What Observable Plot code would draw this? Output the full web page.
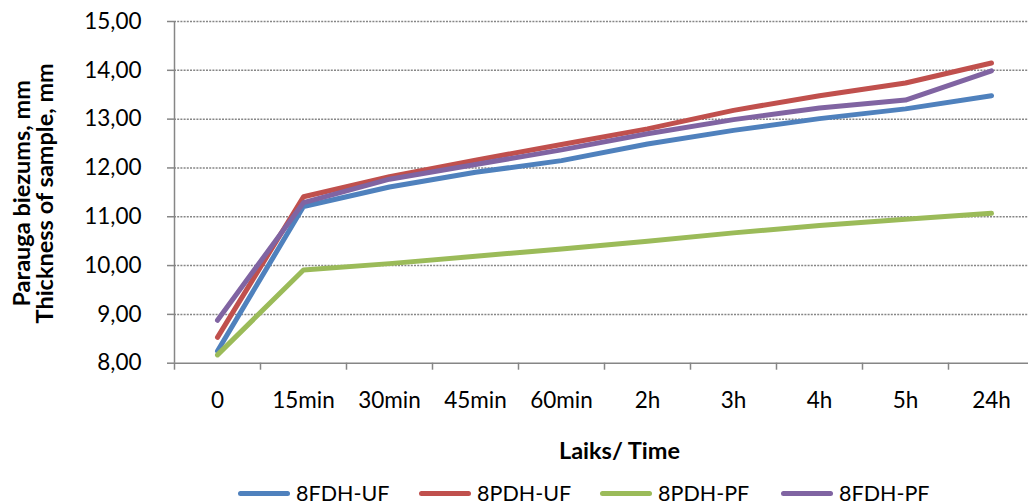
<!DOCTYPE html>
<html>
<head>
<meta charset="utf-8">
<script src="https://cdn.jsdelivr.net/npm/d3@7"></script>
<script src="https://cdn.jsdelivr.net/npm/@observablehq/plot@0.6"></script>
<style>
  html, body { margin: 0; padding: 0; background: #fff; overflow: hidden; }
  body { position: relative; width: 1028px; height: 504px; font-family: Lato, "Open Sans", sans-serif; }
  #legend {
    position: absolute; left: 238px; top: 482px; height: 22px;
    display: flex; align-items: center;
    font-size: 21.5px; line-height: 22px; color: #000; white-space: nowrap;
  }
  #legend .item { display: inline-flex; align-items: center; width: 181px; }
  #legend .swatch { width: 52px; height: 5px; border-radius: 3px; margin-right: 6px; }
</style>
</head>
<body>
<div id="chart"></div>
<div id="legend"></div>
<script>
// Time points along the x axis
const times = ["0", "15min", "30min", "45min", "60min", "2h", "3h", "4h", "5h", "24h"];

// Sample thickness (mm) for each series
const seriesNames = ["8FDH-UF", "8PDH-UF", "8PDH-PF", "8FDH-PF"];
const fdhUF = [8.25, 11.21, 11.61, 11.91, 12.15, 12.49, 12.77, 13.01, 13.21, 13.48];
const pdhUF = [8.53, 11.41, 11.82, 12.16, 12.48, 12.80, 13.18, 13.48, 13.74, 14.15];
const pdhPF = [8.17, 9.91, 10.04, 10.19, 10.34, 10.50, 10.67, 10.82, 10.95, 11.07];
const fdhPF = [8.88, 11.29, 11.77, 12.07, 12.37, 12.70, 12.99, 13.23, 13.39, 13.99];
const seriesValues = [fdhUF, pdhUF, pdhPF, fdhPF];
const seriesColors = ["#4F81BD", "#C0504D", "#9BBB59", "#8064A2"];

// y axis ticks
const yTicks = [8, 9, 10, 11, 12, 13, 14, 15];

const xTitle = "Laiks/ Time";
const yTitle = "Parauga biezums, mm\nThickness of sample, mm";

// Long table for the line marks
const rows = [];
seriesNames.forEach((name, s) => {
  seriesValues[s].forEach((v, i) => rows.push({series: name, i, v}));
});

// Category slot boundaries (ticks sit between the time labels)
const bounds = d3.range(times.length + 1).map(k => k - 0.5);
const centers = d3.range(times.length);

const axisGray = "#868686";
const fmt = d => d.toFixed(2).replace(".", ",");

const chart = Plot.plot({
  width: 1028,
  height: 474,
  marginLeft: 174,
  marginRight: 0,
  marginTop: 21,
  marginBottom: 111.3,
  style: {fontFamily: "Lato, 'Open Sans', sans-serif", fontSize: "22px", color: "#000", background: "#fff"},
  x: {domain: [-0.5, times.length - 0.5], range: [174, 1034]},
  y: {domain: [8, 15]},
  color: {domain: seriesNames, range: seriesColors},
  marks: [
    Plot.gridY(yTicks.filter(t => t > 8), {stroke: axisGray, strokeOpacity: 1, strokeWidth: 1.5, strokeDasharray: "2,1.2"}),
    Plot.ruleX([-0.5], {stroke: axisGray, strokeWidth: 1.5}),
    Plot.ruleY([8], {stroke: axisGray, strokeWidth: 1.5}),
    Plot.axisY(yTicks, {
      tickFormat: fmt, tickSize: 7, tickPadding: 26, fontSize: 22.5,
      stroke: axisGray, strokeWidth: 1.5, fill: "#000", label: null
    }),
    Plot.axisX(bounds, {
      tickFormat: () => "", tickSize: 7, stroke: axisGray, strokeWidth: 1.5, label: null
    }),
    Plot.axisX(centers, {
      tickFormat: i => times[i], tickSize: 0, tickPadding: 28.5, fontSize: 22.5, fill: "#000", label: null
    }),
    Plot.line(rows, {
      x: "i", y: "v", z: "series", stroke: "series",
      strokeWidth: 5, strokeLinecap: "round", strokeLinejoin: "round"
    }),
    Plot.text([xTitle], {
      text: d => d, frameAnchor: "bottom", lineAnchor: "top",
      dx: 18, dy: 79.5, fontSize: 23.5, fontWeight: "bold", fill: "#000"
    }),
    Plot.text([yTitle], {
      text: d => d, frameAnchor: "left", textAnchor: "middle", rotate: -90, lineAnchor: "middle",
      lineHeight: 0.98, dx: -140, dy: 1, fontSize: 23.5, fontWeight: "bold", fill: "#000"
    })
  ]
});
document.getElementById("chart").appendChild(chart);

// Legend with line swatches
const legend = document.getElementById("legend");
seriesNames.forEach((name, s) => {
  const item = document.createElement("span");
  item.className = "item";
  const sw = document.createElement("span");
  sw.className = "swatch";
  sw.style.background = seriesColors[s];
  const label = document.createElement("span");
  label.textContent = name;
  item.appendChild(sw);
  item.appendChild(label);
  legend.appendChild(item);
});
</script>
</body>
</html>
